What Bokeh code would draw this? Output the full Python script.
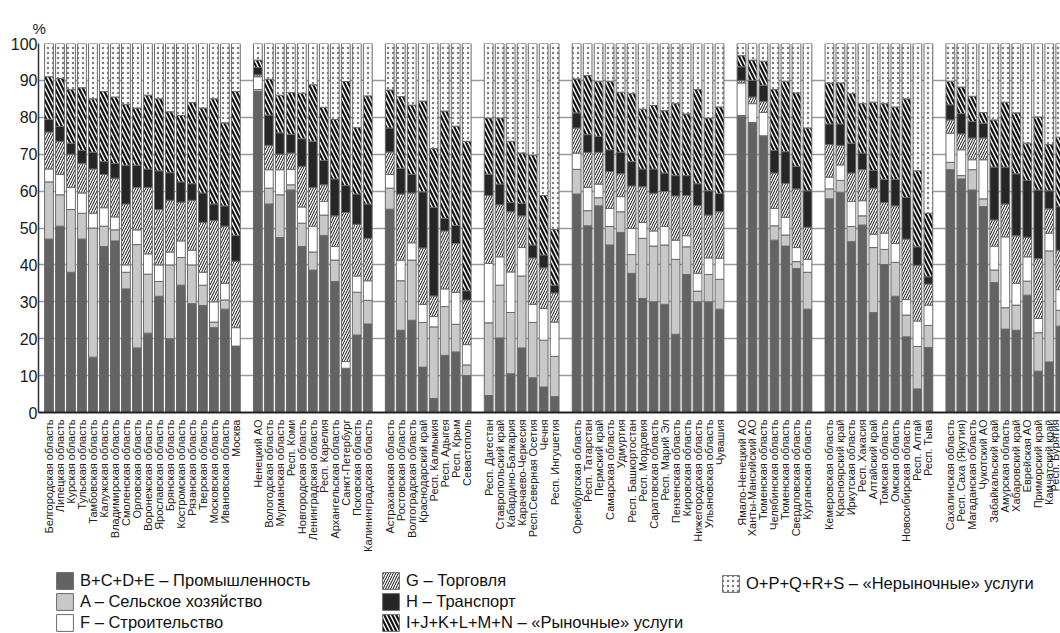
import math
from bokeh.plotting import figure
from bokeh.layouts import column
from bokeh.models import ColumnDataSource, FixedTicker, Range1d, Legend, LegendItem
from bokeh.embed import file_html
from bokeh.resources import INLINE

# ---------------- data (cumulative upper level of each layer, %) ----------------
district_sizes = [18, 11, 8, 7, 14, 7, 10, 11]

regions = [
    # Центральный
    "Белгородская область", "Липецкая область", "Курская область", "Тульская область",
    "Тамбовская область", "Калужская область", "Владимирская область", "Смоленская область",
    "Орловская область", "Воронежская область", "Ярославская область", "Брянская область",
    "Костромская область", "Рязанская область", "Тверская область", "Московская область",
    "Ивановская область", "Москва",
    # Северо-Западный
    "Ненецкий АО", "Вологодская область", "Мурманская область", "Респ. Коми",
    "Новгородская область", "Ленинградская область", "Респ. Карелия", "Архангельская область",
    "Санкт-Петербург", "Псковская область", "Калининградская область",
    # Южный
    "Астраханская область", "Ростовская область", "Волгоградская область", "Краснодарский край",
    "Респ. Калмыкия", "Респ. Адыгея", "Респ. Крым", "Севастополь",
    # Северо-Кавказский
    "Респ. Дагестан", "Ставропольский край", "Кабардино-Балкария", "Карачаево-Черкесия",
    "Респ.Северная Осетия", "Чечня", "Респ. Ингушетия",
    # Приволжский
    "Оренбургская область", "Респ. Татарстан", "Пермский край", "Самарская область",
    "Удмуртия", "Респ. Башкортостан", "Респ. Мордовия", "Саратовская область",
    "Респ. Марий Эл", "Пензенская область", "Кировская область", "Нижегородская область",
    "Ульяновская область", "Чувашия",
    # Уральский
    "Ямало-Ненецкий АО", "Ханты-Мансийский АО", "Тюменская область", "Челябинская область",
    "Тюменская область", "Свердловская область", "Курганская область",
    # Сибирский
    "Кемеровская область", "Красноярский край", "Иркутская область", "Респ. Хакасия",
    "Алтайский край", "Томская область", "Омская область", "Новосибирская область",
    "Респ. Алтай", "Респ. Тыва",
    # Дальневосточный
    "Сахалинская область", "Респ. Саха (Якутия)", "Магаданская область", "Чукотский АО",
    "Забайкальский край", "Амурская область", "Хабаровский край", "Еврейская АО",
    "Приморский край", "Камчатский край", "Респ. Бурятия",
]

industry_top = [
    47, 50.5, 38, 47, 15, 45, 46.5, 33.5, 17.5, 21.5, 31.5, 20, 34.5, 29.5, 29, 23, 28, 18,
    87, 56.5, 47.4, 60.3, 45, 38.6, 48, 35.5, 12, 21, 24,
    55.1, 22.3, 25, 12.3, 3.8, 15.5, 16.4, 10,
    4.6, 20.2, 10.5, 17.5, 9.4, 6.9, 4.3,
    59.2, 50.6, 56, 45.4, 48.8, 37.7, 30.9, 30, 29.3, 21.2, 37.4, 30, 30, 28,
    80.3, 78.6, 74.8, 46.7, 45.1, 39, 28,
    57.9, 59.7, 46.3, 50.8, 27.1, 40.1, 31.5, 20.5, 6.4, 17.6,
    65.8, 63.3, 60.3, 55.8, 35.2, 22.6, 22.3, 31.8, 11.2, 13.7, 23.4,
]
agriculture_top = [
    62.5, 59, 55, 54, 50, 50.5, 49.5, 38, 45.5, 37.5, 35.5, 40, 42, 40, 34.5, 24.5, 30.5, 18,
    87.5, 60.8, 59, 61.7, 51.3, 43.5, 53.5, 41.3, 12, 32.6, 30.4,
    60.8, 35.7, 41.3, 24.4, 23.2, 28.7, 23.9, 12.9,
    24.3, 34.5, 27.1, 37, 24.4, 19.6, 15.2,
    65.9, 54.7, 58.2, 50.4, 54.4, 42.8, 47.2, 45.1, 45.4, 41.5, 44.9, 32.9, 37.4, 36.1,
    80.5, 78.6, 75, 50.6, 48.1, 40.9, 38,
    60.6, 62.9, 50.4, 53.3, 44.7, 44.2, 40.7, 26.4, 17.9, 23.6,
    67.8, 64.2, 65.8, 57.9, 38.6, 28.4, 29.1, 35.6, 21.6, 43.8, 27.7,
]
construction_top = [
    66, 64.5, 61, 59.5, 54, 55.5, 53, 40, 49.5, 43, 40, 43.5, 46.5, 44, 38, 30, 35, 23,
    91, 65.8, 65.8, 65.9, 55.7, 50.5, 57.2, 45, 13.8, 37, 35.7,
    64.5, 41.3, 46, 29.3, 26, 33.5, 32.6, 18.4,
    40.4, 42.2, 38.1, 44.7, 29.3, 28.2, 24.5,
    70.3, 61, 61.9, 55.3, 58.5, 49.9, 51.5, 49.2, 50.4, 46.7, 47.9, 37.7, 41.9, 41.8,
    89.3, 83.7, 81.3, 55.3, 52.9, 44.7, 41.5,
    63.8, 67.1, 57.2, 57.4, 48.3, 48.6, 45.8, 30.6, 24.8, 29.1,
    75.7, 71.2, 68.5, 68.5, 45.1, 47.6, 35, 42.2, 25.5, 48.6, 33.3,
]
trade_top = [
    76, 73.5, 70, 67.5, 66, 64.5, 63.5, 56.5, 61, 61, 55, 57.5, 57, 57.5, 51.5, 52, 50.5, 41,
    91.5, 72.4, 70, 70.3, 66.7, 61, 61.7, 53.3, 54.2, 51, 47.2,
    70.6, 59.2, 59.5, 44.6, 31.6, 49.2, 45.8, 30.5,
    58.8, 56.3, 54.4, 53.3, 41.9, 39.2, 32.4,
    77.1, 70.5, 70.5, 65.3, 64.7, 61.4, 61.2, 59.4, 59.9, 58.7, 58.8, 56.1, 53.5, 54.4,
    90, 85.5, 84.3, 64.9, 62.1, 60.6, 50.2,
    72.6, 72.4, 64.9, 65.8, 60.8, 56.9, 56, 47, 39.9, 34.8,
    79.3, 75.5, 74.4, 74.4, 52.2, 56.5, 47.9, 47.5, 41.7, 55.2, 44,
]
transport_top = [
    79.5, 77.5, 73, 71, 70.5, 68, 67.5, 67, 67, 66, 65.5, 65, 62.5, 62, 59.5, 56.5, 56, 48,
    93.5, 80.6, 75.8, 75.4, 74.2, 73.5, 68.3, 63.3, 61.5, 59.2, 56.5,
    77.1, 66.2, 64.5, 59.8, 55.6, 52.6, 50.7, 33,
    64.6, 61.9, 56.9, 56.7, 45.4, 42.7, 34.5,
    81.2, 75.3, 74.8, 71.2, 70.5, 68, 66, 66, 64.9, 64.2, 64.2, 62, 60.1, 59.4,
    93.7, 90, 88.7, 71, 70.7, 66.7, 60.1,
    78.2, 78.2, 73, 70.3, 65.6, 63.2, 63.2, 58.3, 44.9, 36.8,
    83.4, 81, 78.9, 78.4, 66.5, 66.5, 64.7, 62.9, 60.3, 60.1, 55.8,
]
market_top = [
    91, 90.5, 87.5, 88, 85, 87, 85.5, 83.5, 82.5, 86, 85, 81.5, 80.5, 84, 82.5, 85, 78.5, 87,
    95.5, 90.3, 86, 86.7, 86.5, 88.8, 82.7, 79.4, 89.7, 77.2, 85.8,
    87.4, 85.6, 83.3, 84.4, 71.5, 81.7, 77.6, 73.5,
    79.8, 79.8, 73.5, 70.3, 69.8, 58.8, 49.6,
    90.4, 91.3, 89.8, 89.8, 86.8, 86.4, 82.2, 83.2, 81.8, 83.7, 80.9, 87.5, 79.8, 82.8,
    96.7, 95.5, 95.2, 87.5, 89.8, 86.6, 77.1,
    89.3, 89.3, 86.4, 83.7, 84.1, 83.7, 82.8, 85, 65.5, 54,
    89.8, 88.2, 85.7, 81.3, 79.3, 84.1, 81.2, 73, 80.1, 72.6, 74.6,
]
total_top = [100] * len(regions)

layer_labels = [
    "B+C+D+E – Промышленность",
    "A – Сельское хозяйство",
    "F – Строительство",
    "G – Торговля",
    "H – Транспорт",
    "I+J+K+L+M+N – «Рыночные» услуги",
    "O+P+Q+R+S – «Нерыночные» услуги",
]

# ---------------- positions: one empty slot between districts ----------------
xs = []
slot = 0
for size in district_sizes:
    for i in range(size):
        xs.append(slot + i + 0.5)
    slot += size + 1

source = ColumnDataSource(dict(
    x=xs, zero=[0] * len(regions), industry=industry_top, agriculture=agriculture_top,
    construction=construction_top, trade=trade_top, transport=transport_top,
    market=market_top, total=total_top,
))

SANS = "Liberation Sans"
W = 1060

p = figure(width=W, height=565, output_backend="svg", toolbar_location=None,
           x_range=Range1d(-0.455, 92.52), y_range=Range1d(0, 100),
           min_border_left=38, min_border_right=0, min_border_top=43, min_border_bottom=153)
p.outline_line_color = None
p.background_fill_color = "white"
p.xgrid.visible = False
p.ygrid.grid_line_color = "#9a9a9a"
p.ygrid.grid_line_width = 1.3
p.ygrid.ticker = FixedTicker(ticks=list(range(0, 101, 10)))

p.title.text = "%"
p.title.align = "left"
p.title.offset = -6
p.title.standoff = 14
p.title.text_font = SANS
p.title.text_font_size = "15px"
p.title.text_font_style = "normal"
p.title.text_color = "#1a1a1a"

styles = [
    dict(fill_color="#636363"),
    dict(fill_color="#c8c8c8"),
    dict(fill_color="white"),
    dict(fill_color="white", hatch_pattern="/", hatch_color="#111111", hatch_scale=5, hatch_weight=1),
    dict(fill_color="#262626"),
    dict(fill_color="white", hatch_pattern="\\", hatch_color="#111111", hatch_scale=8, hatch_weight=2.2),
    dict(fill_color="white", hatch_pattern=".", hatch_color="#7d7d7d", hatch_scale=5, hatch_weight=1.1),
]
bounds = ["zero", "industry", "agriculture", "construction", "trade", "transport", "market", "total"]

for k, style in enumerate(styles):
    p.vbar(x="x", bottom=bounds[k], top=bounds[k + 1], width=0.8, source=source,
           line_color="#6a6a6a", line_width=1, **style)

# axes
p.yaxis.ticker = FixedTicker(ticks=list(range(0, 101, 10)))
p.yaxis.major_tick_out = 0
p.yaxis.major_tick_in = 0
p.yaxis.minor_tick_line_color = None
p.yaxis.major_label_standoff = 1
p.yaxis.major_label_text_font = SANS
p.yaxis.major_label_text_font_size = "16px"
p.yaxis.major_label_text_color = "#1a1a1a"
p.yaxis.axis_line_color = "#333333"
p.yaxis.axis_line_width = 1.5

p.xaxis.ticker = FixedTicker(ticks=xs)
p.xaxis.major_label_overrides = {x: name for x, name in zip(xs, regions)}
p.xaxis.major_label_orientation = math.pi / 2
p.xaxis.major_tick_out = 0
p.xaxis.major_tick_in = 0
p.xaxis.minor_tick_line_color = None
p.xaxis.major_label_standoff = 7
p.xaxis.major_label_text_font = SANS
p.xaxis.major_label_text_font_size = "11px"
p.xaxis.major_label_text_color = "#1a1a1a"
p.xaxis.axis_line_color = "#222222"
p.xaxis.axis_line_width = 2

# ---------------- legend strip below the chart ----------------
lg_fig = figure(width=W, height=68, output_backend="svg", toolbar_location=None,
                x_range=Range1d(0, 1), y_range=Range1d(0, 1),
                min_border_left=0, min_border_right=0, min_border_top=0, min_border_bottom=0)
lg_fig.axis.visible = False
lg_fig.grid.visible = False
lg_fig.outline_line_color = None

# swatch renderers for the legend (their single mark lies outside the visible range)
hidden = ColumnDataSource(dict(x=[10], bottom=[10], top=[11]))
swatches = [lg_fig.vbar(x="x", bottom="bottom", top="top", width=0.8, source=hidden,
                        line_color="#6a6a6a", line_width=1, **style) for style in styles]


def make_legend(idx, loc):
    items = [LegendItem(label=layer_labels[i], renderers=[swatches[i]]) for i in idx]
    lg = Legend(items=items, location=loc, orientation="vertical",
                glyph_width=21, glyph_height=21, label_height=21, label_standoff=5,
                spacing=-1, padding=0, margin=0, border_line_color=None,
                background_fill_alpha=0, label_text_font=SANS,
                label_text_font_size="16.5px", label_text_color="#111111")
    lg_fig.add_layout(lg, "center")


# the legend strip's frame is aligned with the chart frame (38 px from the left)
make_legend([0, 1, 2], (16, 0))
make_legend([3, 4, 5], (342, 0))
make_legend([6], (682, 39))

layout = column(p, lg_fig, spacing=0)
open("out.html", "w").write(file_html(layout, INLINE))
